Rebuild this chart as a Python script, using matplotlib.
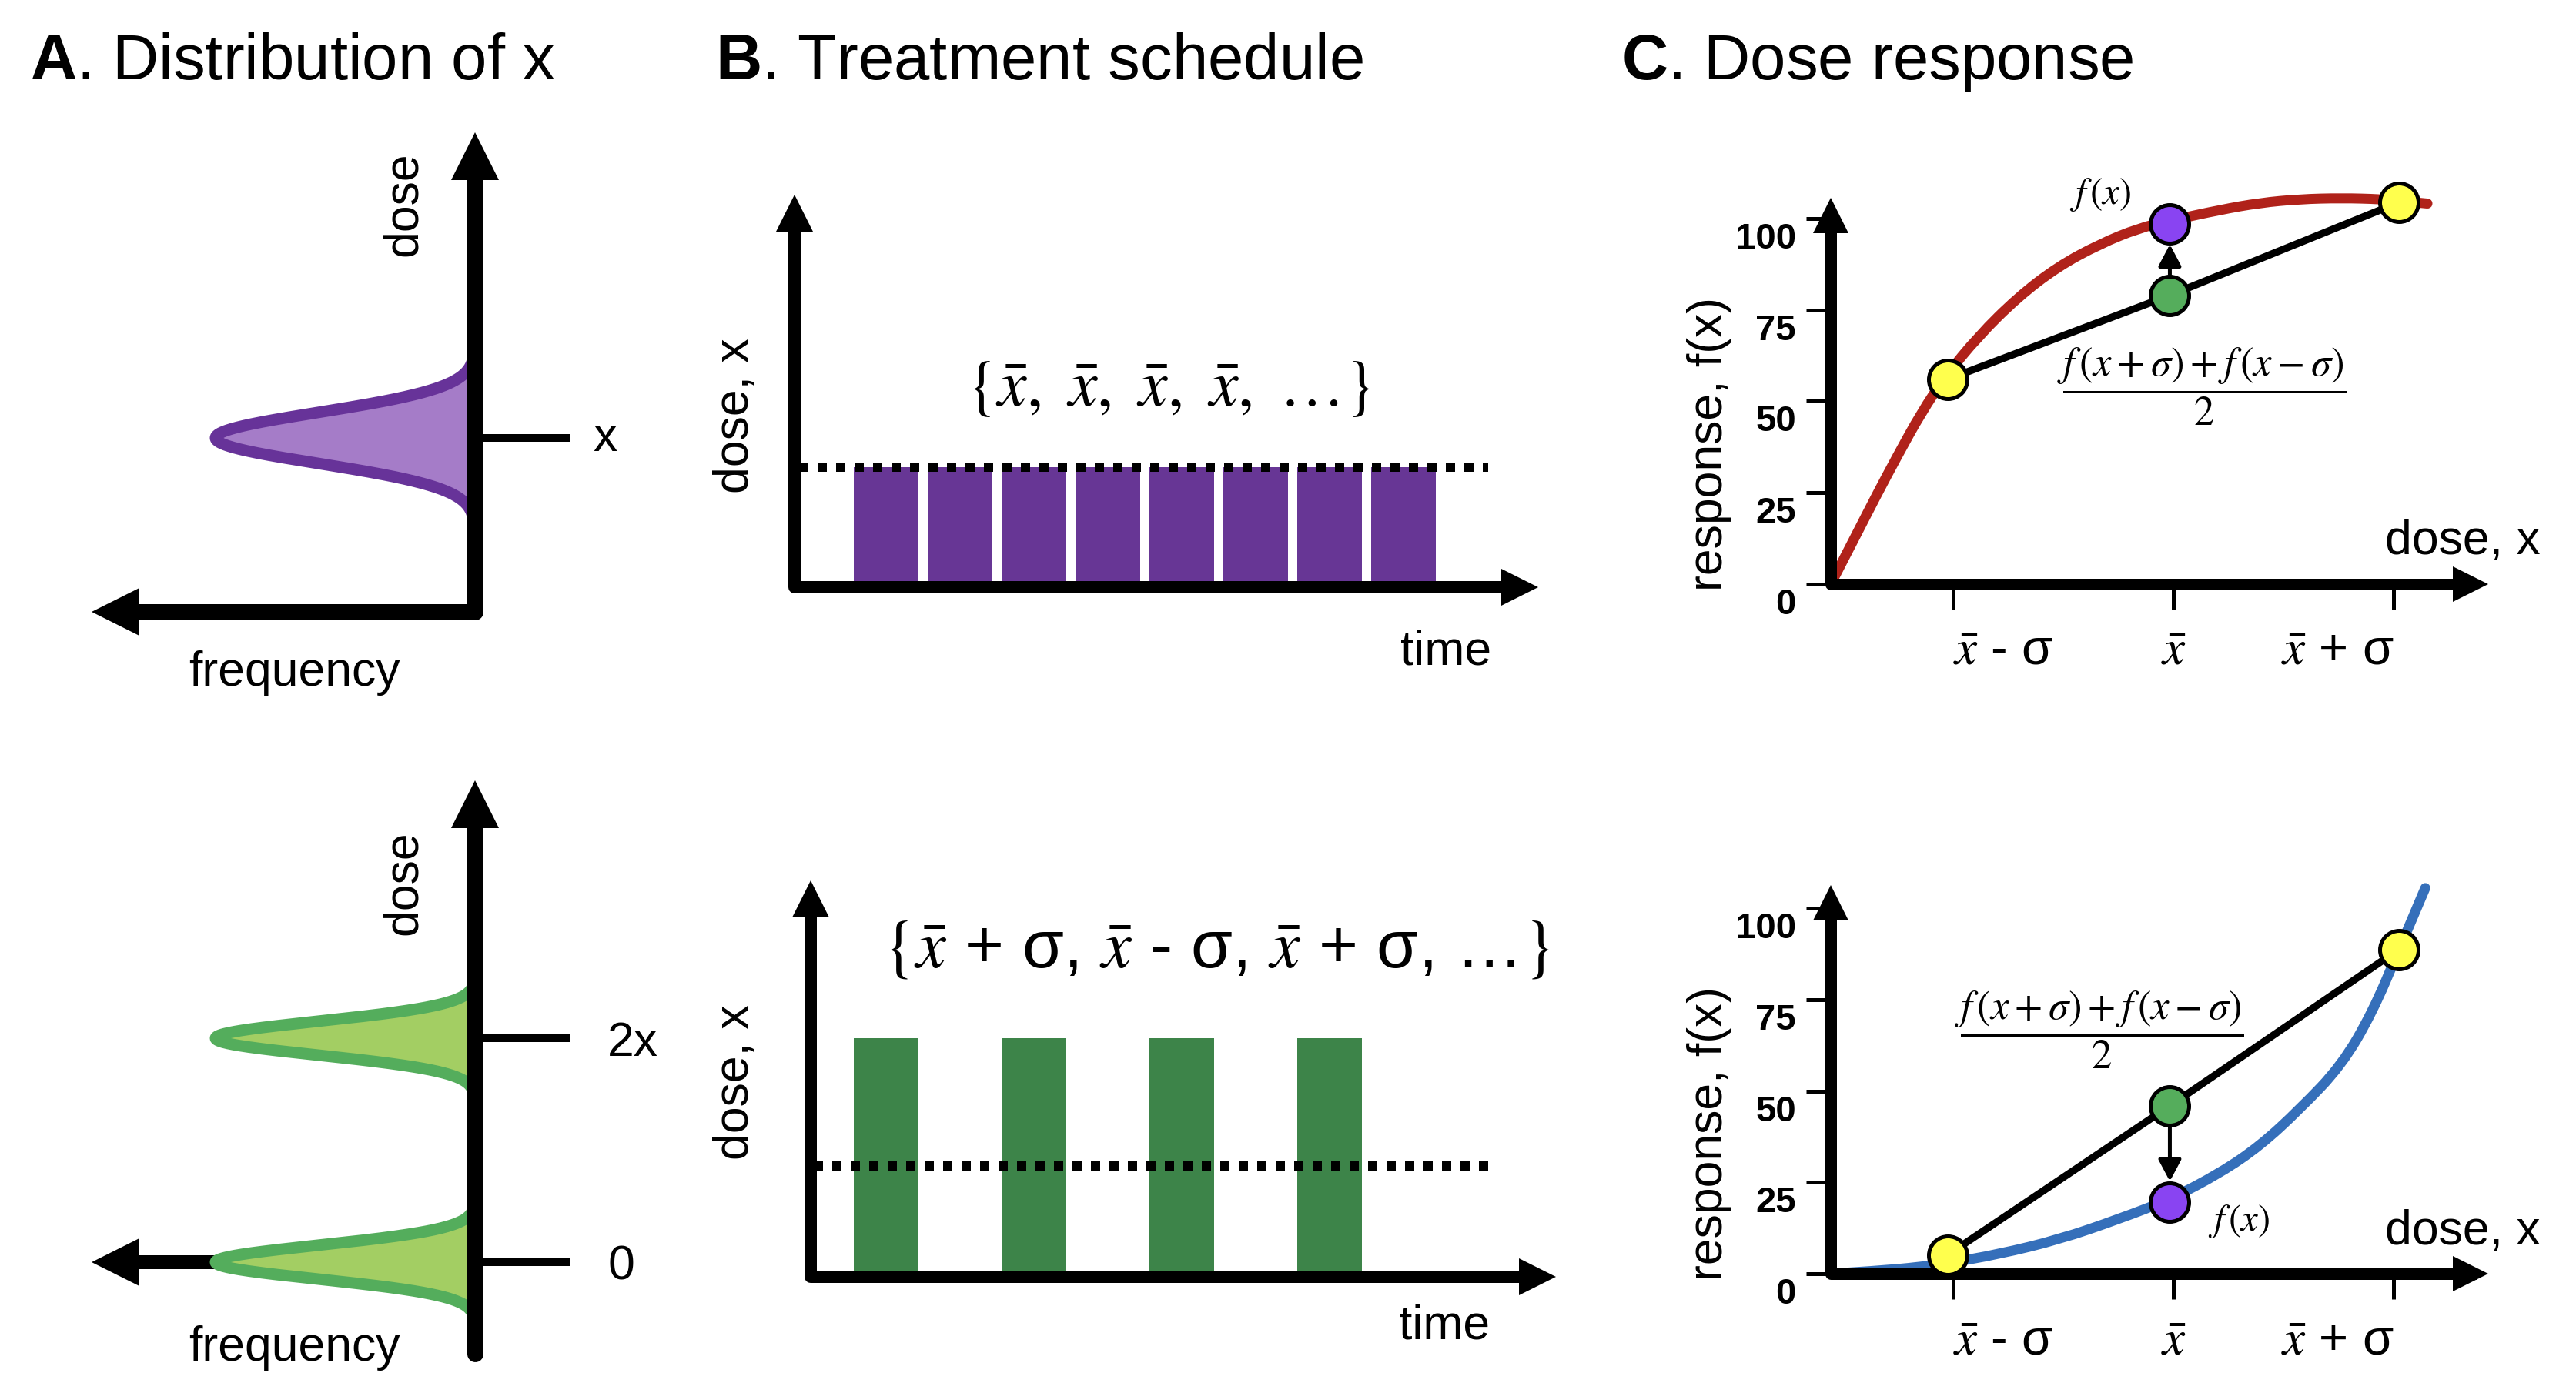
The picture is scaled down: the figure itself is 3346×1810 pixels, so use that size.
import numpy as np
import matplotlib.pyplot as plt
from matplotlib.transforms import ScaledTranslation
from matplotlib.path import Path
from matplotlib.patches import PathPatch

plt.rcParams['font.family'] = ['Liberation Sans', 'DejaVu Sans']
plt.rcParams['font.sans-serif'] = ['Liberation Sans', 'DejaVu Sans']
plt.rcParams['mathtext.fontset'] = 'custom'
plt.rcParams['mathtext.bf'] = 'Liberation Sans:bold'
plt.rcParams['mathtext.rm'] = 'Liberation Sans'

W, H, DPI = 3346, 1810, 200

# ---------------- data ----------------
# A. distribution of the dose (mean, sd in dose units)
dist_top_mean = 1.0
dist_top_sd = 0.227
dist_bot_means = [0.0, 2.0]
dist_bot_sd = 0.151
dose_ticks_top = [1.0]
dose_labels_top = ['x']
dose_ticks_bot = [0.0, 2.0]
dose_labels_bot = ['0', '2x']

# B. treatment schedules
sched_top_time = [1, 2, 3, 4, 5, 6, 7, 8]
sched_top_dose = [1.0, 1.0, 1.0, 1.0, 1.0, 1.0, 1.0, 1.0]
sched_bot_time = [1, 3, 5, 7]
sched_bot_dose = [2.15, 2.15, 2.15, 2.15]
mean_dose = 1.0

# C. dose response curves (points along the drawn curves)
dose_red = [0, 0.12, 0.21, 0.30, 0.41, 0.52, 0.67, 0.85, 1.03, 1.22, 1.40,
            1.54, 1.77, 1.95, 2.13, 2.32, 2.50, 2.59, 2.71]
resp_red = [0, 14.0, 24.6, 34.8, 46.8, 56.8, 67.8, 78.5, 86.8, 93.0, 97.4,
            99.4, 102.4, 104.3, 105.3, 105.6, 105.3, 104.8, 104.1]
dose_blue = [0, 0.21, 0.40, 0.54, 0.76, 1.04, 1.31, 1.54, 1.77, 1.95, 2.13,
             2.32, 2.46, 2.58, 2.70]
resp_blue = [0, 0.8, 1.8, 3.0, 5.3, 9.4, 15.0, 20.3, 27.6, 35.0, 45.0,
             57.0, 71.5, 88.5, 105.5]
pt_dose = [0.53, 1.54, 2.58]
red_pts = [56.0, 98.6, 104.4]
red_mid = 79.0
blue_pts = [5.1, 19.6, 88.7]
blue_mid = 45.9
xtick_pos = [0.556, 1.556, 2.556]
xtick_labels = [r'$\bar{x}$ - σ', r'$\bar{x}$', r'$\bar{x}$ + σ']
ytick_pos = [0, 25, 50, 75, 100]


def pt(px):
    return px * 72 / DPI


fig = plt.figure(figsize=(W / DPI, H / DPI), dpi=DPI)


def px_axes(left, top, right, bottom):
    ax = fig.add_axes([left / W, 1 - bottom / H, (right - left) / W, (bottom - top) / H])
    ax.set_facecolor('none')
    for s in ax.spines.values():
        s.set_visible(False)
    ax.set_xticks([])
    ax.set_yticks([])
    return ax


def ftext(x, y, s, **kw):
    return fig.text(x / W, 1 - y / H, s, **kw)


# titles
ftext(39, 103, r'$\mathbf{A}$. Distribution of x', fontsize=30, va='baseline')
ftext(929, 103, r'$\mathbf{B}$. Treatment schedule', fontsize=30, va='baseline')
ftext(2106, 103, r'$\mathbf{C}$. Dose response', fontsize=30, va='baseline')

LAB = 22.5

# ---------------- A ----------------
a_scale = 145.5   # px per dose unit
a_amp = 337       # px for peak frequency
purple_line, purple_fill = '#673399', '#A57CC8'
green_line, green_fill = '#54AD5C', '#A3CE63'


def dist(ax, mean, sd, lc, fc):
    d = np.linspace(mean - 3.2 * sd, mean + 3.2 * sd, 300)
    f = np.exp(-0.5 * ((d - mean) / sd) ** 2)
    ax.fill_betweenx(d, 0, f, color=fc, lw=0, zorder=2)
    ax.plot(f, d, color=lc, lw=pt(15), zorder=2.1)


# top
axA1 = px_axes(119, 172, 617, 795)
axA1.set_xlim(498 / a_amp, 0)
axA1.set_ylim(1 - (795 - 569) / a_scale, 1 + (569 - 172) / a_scale)
hw, hh = 31 / 498, 31 / 623
axA1.plot([1, 1, hw], [1 - hh, 0, 0], color='k', lw=pt(21), solid_joinstyle='round',
          transform=axA1.transAxes, clip_on=False, zorder=3)
axA1.plot(1, 1 - hh, marker='^', ms=pt(62), color='k', mew=0, transform=axA1.transAxes, clip_on=False, zorder=3)
axA1.plot(hw, 0, marker='<', ms=pt(62), color='k', mew=0, transform=axA1.transAxes, clip_on=False, zorder=3)
dist(axA1, dist_top_mean, dist_top_sd, purple_line, purple_fill)
for t, lab in zip(dose_ticks_top, dose_labels_top):
    axA1.plot([0, -118 / a_amp], [t, t], color='k', lw=pt(10), clip_on=False, zorder=3)
    axA1.text(-153 / a_amp, t, lab, fontsize=LAB, ha='left', va='center', clip_on=False)
ftext(524, 265, 'dose', fontsize=LAB, rotation=90, ha='center', va='center')
ftext(382, 874, 'frequency', fontsize=LAB, ha='center', va='center')

# bottom
axA2 = px_axes(119, 1014, 617, 1759)
axA2.set_xlim(498 / a_amp, 0)
axA2.set_ylim(-(1759 - 1640) / a_scale, (1640 - 1014) / a_scale)
hh2 = 31 / 745
axA2.plot([1, 1], [1 - hh2, 0], color='k', lw=pt(21), solid_capstyle='round',
          transform=axA2.transAxes, clip_on=False, zorder=3)
axA2.plot(1, 1 - hh2, marker='^', ms=pt(62), color='k', mew=0, transform=axA2.transAxes, clip_on=False, zorder=3)
ytr = axA2.get_yaxis_transform()
axA2.plot([1, hw], [0, 0], color='k', lw=pt(18), transform=ytr, clip_on=False, zorder=1)
axA2.plot(hw, 0, marker='<', ms=pt(62), color='k', mew=0, transform=ytr, clip_on=False, zorder=1)
for m in dist_bot_means:
    dist(axA2, m, dist_bot_sd, green_line, green_fill)
for t, lab in zip(dose_ticks_bot, dose_labels_bot):
    axA2.plot([0, -118 / a_amp], [t, t], color='k', lw=pt(10), clip_on=False, zorder=3)
    axA2.text(-172 / a_amp, t - 6 / a_scale, lab, fontsize=LAB, ha='left', va='center', clip_on=False)
ftext(524, 1147, 'dose', fontsize=LAB, rotation=90, ha='center', va='center')
ftext(382, 1751, 'frequency', fontsize=LAB, ha='center', va='center')

# ---------------- B ----------------
b_tscale = 96.0
bar_w = 84 / b_tscale


def schedule_axes(left, top, right, bottom, y_scale, t_first_px):
    ax = px_axes(left, top, right, bottom)
    ax.set_xlim(1 - (t_first_px - left) / b_tscale, 1 + (right - t_first_px) / b_tscale)
    ax.set_ylim(0, (bottom - top) / y_scale)
    wpx, hpx = right - left, bottom - top
    ax.plot([0, 0, 1 - 24 / wpx], [1 - 24 / hpx, 0, 0], color='k', lw=pt(16),
            solid_joinstyle='round', transform=ax.transAxes, clip_on=False, zorder=4)
    ax.plot(0, 1 - 24 / hpx, marker='^', ms=pt(48), color='k', mew=0, transform=ax.transAxes, clip_on=False, zorder=4)
    ax.plot(1 - 24 / wpx, 0, marker='>', ms=pt(48), color='k', mew=0, transform=ax.transAxes, clip_on=False, zorder=4)
    return ax


axB1 = schedule_axes(1032, 253, 1998, 763, 156.0, 1151)
axB1.bar(sched_top_time, sched_top_dose, width=bar_w, color='#673695', zorder=2)
axB1.axhline(mean_dose, xmin=0.006, xmax=0.933, color='k', lw=pt(12), ls=(0, (1, 1)), zorder=3)
ftext(1518, 505, r'$\{\bar{x},\ \bar{x},\ \bar{x},\ \bar{x},\ \ldots\}$', fontsize=30.5,
      math_fontfamily='stix', ha='center', va='center')
ftext(956, 540, 'dose, x', fontsize=LAB, rotation=90, ha='center', va='center')
ftext(1878, 864, 'time', fontsize=LAB, ha='center', va='baseline')

axB2 = schedule_axes(1053, 1144, 2021, 1659, 144.0, 1151)
axB2.bar(sched_bot_time, sched_bot_dose, width=bar_w, color='#3D8449', zorder=2)
axB2.axhline(mean_dose, xmin=0.004, xmax=0.917, color='k', lw=pt(12), ls=(0, (1, 1)), zorder=3)
ftext(1580, 1234, r'$\{\bar{x}$ + σ, $\bar{x}$ - σ, $\bar{x}$ + σ, …$\}$', fontsize=31.5,
      math_fontfamily='stix', ha='center', va='center')
ftext(956, 1406, 'dose, x', fontsize=LAB, rotation=90, ha='center', va='center')
ftext(1876, 1739, 'time', fontsize=LAB, ha='center', va='baseline')

# ---------------- C ----------------
c_xscale = 286.0
c_yscale = 4.75
yellow, dot_purple, dot_green = '#FFFF4D', '#8944F2', '#55AD5C'


def response_axes(top, bottom):
    left, right = 2378, 3232
    ax = px_axes(left, top, right, bottom)
    ax.set_xlim(0, (right - left) / c_xscale)
    ax.set_ylim(0, (bottom - top) / c_yscale)
    wpx, hpx = right - left, bottom - top
    ax.plot([0, 0, 1 - 23 / wpx], [1 - 23 / hpx, 0, 0], color='k', lw=pt(15),
            solid_joinstyle='round', transform=ax.transAxes, clip_on=False, zorder=4)
    ax.plot(0, 1 - 23 / hpx, marker='^', ms=pt(46), color='k', mew=0, transform=ax.transAxes, clip_on=False, zorder=4)
    ax.plot(1 - 23 / wpx, 0, marker='>', ms=pt(46), color='k', mew=0, transform=ax.transAxes, clip_on=False, zorder=4)
    ax.set_yticks(ytick_pos, [str(v) for v in ytick_pos], fontweight='bold', fontsize=17)
    ax.tick_params(axis='y', direction='out', length=pt(32), width=pt(5), pad=pt(13))
    for lab in ax.get_yticklabels():
        lab.set_transform(lab.get_transform() + ScaledTranslation(0, -22 / DPI, fig.dpi_scale_trans))
    ax.set_xticks(xtick_pos, xtick_labels, fontsize=23.5, math_fontfamily='stix')
    ax.tick_params(axis='x', direction='out', length=pt(33), width=pt(5), pad=pt(55))
    labs = ax.get_xticklabels()
    for lab in labs:
        lab.set_verticalalignment('center')
    labs[0].set_horizontalalignment('left')
    labs[2].set_horizontalalignment('right')
    return ax


def smooth_curve(ax, xs, ys, **kw):
    # quadratic Bezier path using the read points as control points
    p = np.column_stack([xs, ys])
    verts, codes = [p[0]], [Path.MOVETO]
    for i in range(1, len(p) - 1):
        end = p[i + 1] if i == len(p) - 2 else (p[i] + p[i + 1]) / 2
        verts += [p[i], end]
        codes += [Path.CURVE3, Path.CURVE3]
    ax.add_patch(PathPatch(Path(verts, codes), fill=False, capstyle='round',
                           joinstyle='round', clip_on=False, zorder=2, **kw))


def response_points(ax, pts, mid):
    ax.plot(pt_dose, [pts[0], mid, pts[2]], color='k', lw=pt(9.5), zorder=3, clip_on=False)
    ax.annotate('', xy=(pt_dose[1], pts[1]), xytext=(pt_dose[1], mid),
                arrowprops=dict(arrowstyle='-|>,head_length=0.85,head_width=0.45', mutation_scale=10,
                                color='k', lw=pt(5), shrinkA=pt(27), shrinkB=pt(27)), zorder=5)
    kw = dict(marker='o', ms=pt(50), mec='k', mew=pt(5), ls='none', zorder=6, clip_on=False)
    ax.plot([pt_dose[0], pt_dose[2]], [pts[0], pts[2]], mfc=yellow, **kw)
    ax.plot(pt_dose[1], pts[1], mfc=dot_purple, **kw)
    ax.plot(pt_dose[1], mid, mfc=dot_green, **kw)


FRAC = r'$\dfrac{f\,(x+\sigma)+f\,(x-\sigma)}{2}$'

axC1 = response_axes(257, 759)
smooth_curve(axC1, dose_red, resp_red, edgecolor='#B0221A', lw=pt(13))
response_points(axC1, red_pts, red_mid)
ftext(2728, 253, r'$f\,(x)$', fontsize=17.5, math_fontfamily='stix', ha='center', va='center')
ftext(2860, 502, FRAC, fontsize=19, math_fontfamily='stix', ha='center', va='center')
ftext(3199, 720, 'dose, x', fontsize=LAB, ha='center', va='baseline')
ftext(2221, 577, 'response, f(x)', fontsize=LAB, rotation=90, ha='center', va='center')

axC2 = response_axes(1150, 1655)
smooth_curve(axC2, dose_blue, resp_blue, edgecolor='#356FBA', lw=pt(13))
response_points(axC2, blue_pts, blue_mid)
ftext(2908, 1587, r'$f\,(x)$', fontsize=17.5, math_fontfamily='stix', ha='center', va='center')
ftext(2727, 1338, FRAC, fontsize=19, math_fontfamily='stix', ha='center', va='center')
ftext(3199, 1617, 'dose, x', fontsize=LAB, ha='center', va='baseline')
ftext(2221, 1473, 'response, f(x)', fontsize=LAB, rotation=90, ha='center', va='center')

fig.savefig('out.png', dpi=DPI)
